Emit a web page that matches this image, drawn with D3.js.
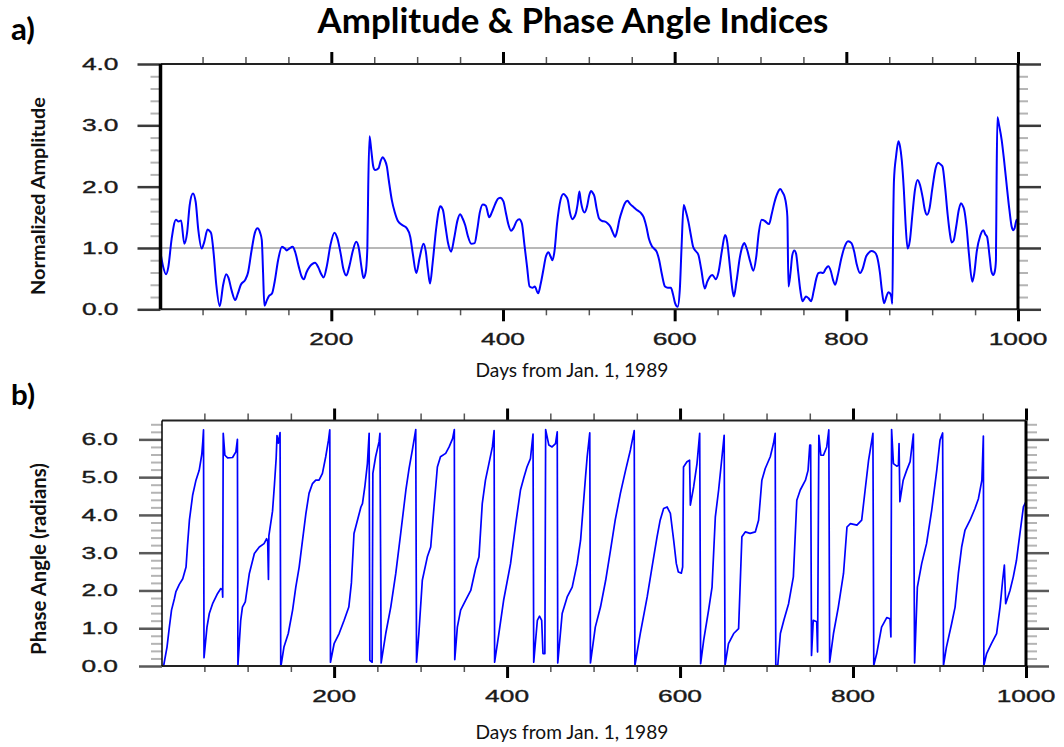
<!DOCTYPE html>
<html>
<head>
<meta charset="utf-8">
<script src="https://cdn.jsdelivr.net/npm/d3@7"></script>
<style>
  body { margin: 0; background: #fff; }
  svg { display: block; }
</style>
</head>
<body>
<svg id="chart" width="1064" height="747"></svg>
<script>
// ---- Panel a: normalized amplitude index (day, value) ----
const ampDays = [
  1, 4, 7.5, 10, 14, 19, 22, 25, 28.7, 32, 35, 38.8, 42, 45, 49, 52, 55.8, 58, 60, 63,
  66, 70, 74, 77.6, 80, 84, 88, 91, 94.6, 99.7, 103, 107, 111, 114, 117, 119, 120.5, 122, 125, 127,
  131, 134, 138, 142.5, 146, 148, 151, 155, 158, 162, 165, 168, 171, 175, 178, 181, 185, 188, 191, 195,
  199, 203.7, 207, 211, 214, 217.5, 221, 225, 229, 232, 235, 237.5, 240, 242, 243, 244.5, 246.5, 249, 251, 255,
  257.5, 260, 262, 264.7, 267, 270.5, 274, 278, 283, 288, 292, 295, 299, 303, 307.4, 310, 312.5, 315, 318, 322,
  325, 327, 330, 333, 336, 339.6, 343, 347, 350, 353, 356, 359, 363, 367, 370, 373, 376.5, 380, 384, 387,
  391, 394, 396.7, 400.5, 403, 406, 409.5, 412, 416, 419, 422, 425, 428, 431, 434.3, 437, 441, 444, 447, 450,
  453, 455.5, 457.7, 460, 463, 467, 470.4, 473, 475.6, 478, 481, 483, 485, 487, 489, 490.5, 492, 495, 498, 500.5,
  502.7, 504.5, 506.6, 509, 512, 515.5, 519, 522, 525, 528, 530.6, 533, 535.6, 539, 542, 545, 548, 552, 556, 560,
  563.6, 567, 570, 573.5, 576, 579, 582, 585, 588.8, 592, 595.6, 598, 600.5, 603.5, 606, 608, 610.5, 613, 616, 619,
  621.5, 624.5, 627.6, 631, 635, 638, 641, 644, 648, 651, 655, 658.7, 661, 664, 667, 669, 672, 676, 679, 681,
  684, 688, 691.7, 695, 698, 701.4, 705, 710, 713, 716, 720, 723, 726, 728, 730, 731.3, 732.6, 735, 737, 739.4,
  741.4, 744, 746.5, 749, 751, 753, 756, 759, 762, 765, 767.4, 770, 773, 776, 779, 782, 784.5, 787, 790, 794,
  798, 802, 806, 809, 812, 816, 819, 823, 826, 829, 833, 836, 839, 841.5, 844, 847, 849, 851, 852.5, 853.6,
  854.5, 855.5, 858, 860.7, 862.5, 864.6, 867, 869, 871.4, 874, 877, 880, 883, 886, 889, 891.5, 894, 897, 900, 904,
  907, 910, 912, 915, 918, 920.5, 922.7, 925, 928, 931, 933.6, 936, 937.4, 940, 943, 946.7, 949, 952, 956, 959.6,
  962, 964, 967, 969, 971.2, 973, 974.3, 975, 976, 978, 981, 984, 987, 990, 992.6, 994.5, 996, 998.4, 1000
];
const ampValues = [
  0.92, 0.70, 0.57, 0.68, 1.15, 1.46, 1.43, 1.45, 1.07, 1.25, 1.70, 1.89, 1.75, 1.30, 0.99, 1.10, 1.30, 1.28, 1.24, 0.90,
  0.40, 0.05, 0.40, 0.57, 0.52, 0.30, 0.15, 0.25, 0.40, 0.48, 0.60, 0.95, 1.25, 1.32, 1.25, 1.13, 0.60, 0.06, 0.15, 0.21,
  0.26, 0.45, 0.80, 1.02, 0.99, 0.96, 0.99, 1.02, 0.93, 0.70, 0.55, 0.49, 0.60, 0.70, 0.74, 0.76, 0.68, 0.58, 0.52, 0.72,
  1.05, 1.25, 1.16, 0.90, 0.66, 0.55, 0.70, 0.95, 1.10, 1.00, 0.70, 0.51, 0.60, 1.00, 2.00, 2.82, 2.60, 2.32, 2.27, 2.30,
  2.42, 2.48, 2.44, 2.33, 2.10, 1.78, 1.58, 1.43, 1.37, 1.32, 1.18, 0.90, 0.59, 0.85, 1.07, 0.95, 0.65, 0.42, 0.75, 1.30,
  1.60, 1.68, 1.62, 1.35, 1.08, 0.94, 1.15, 1.45, 1.55, 1.48, 1.37, 1.20, 1.07, 1.08, 1.30, 1.58, 1.71, 1.69, 1.50, 1.58,
  1.72, 1.80, 1.82, 1.76, 1.60, 1.40, 1.28, 1.32, 1.44, 1.47, 1.40, 1.05, 0.70, 0.37, 0.35, 0.37, 0.26, 0.42, 0.64, 0.86,
  0.93, 0.86, 0.80, 0.95, 1.40, 1.78, 1.88, 1.85, 1.78, 1.58, 1.47, 1.50, 1.57, 1.72, 1.92, 1.78, 1.67, 1.58, 1.68, 1.86,
  1.93, 1.90, 1.84, 1.65, 1.48, 1.44, 1.43, 1.40, 1.35, 1.25, 1.18, 1.28, 1.46, 1.62, 1.73, 1.77, 1.72, 1.67, 1.62, 1.58,
  1.51, 1.35, 1.15, 1.03, 0.99, 0.94, 0.80, 0.58, 0.37, 0.35, 0.35, 0.25, 0.10, 0.04, 0.32, 1.00, 1.70, 1.60, 1.43, 1.20,
  1.02, 0.95, 0.89, 0.65, 0.34, 0.45, 0.53, 0.56, 0.49, 0.60, 0.95, 1.21, 1.12, 0.75, 0.35, 0.21, 0.45, 0.85, 1.03, 1.08,
  0.99, 0.78, 0.63, 0.85, 1.25, 1.46, 1.44, 1.39, 1.55, 1.73, 1.90, 1.96, 1.90, 1.84, 1.70, 1.51, 0.37, 0.60, 0.88, 0.96,
  0.91, 0.60, 0.30, 0.13, 0.17, 0.21, 0.18, 0.13, 0.30, 0.50, 0.59, 0.60, 0.59, 0.66, 0.70, 0.62, 0.48, 0.40, 0.55, 0.82,
  1.02, 1.11, 1.08, 0.95, 0.74, 0.59, 0.66, 0.86, 0.92, 0.95, 0.93, 0.85, 0.61, 0.30, 0.10, 0.22, 0.28, 0.26, 0.20, 0.09,
  1.30, 2.10, 2.50, 2.74, 2.66, 2.43, 1.95, 1.40, 0.99, 1.12, 1.55, 1.95, 2.11, 2.02, 1.82, 1.62, 1.54, 1.65, 1.95, 2.30,
  2.39, 2.36, 2.33, 2.00, 1.55, 1.25, 1.09, 1.12, 1.35, 1.62, 1.73, 1.68, 1.62, 1.35, 0.88, 0.45, 0.58, 0.95, 1.20, 1.29,
  1.22, 1.18, 0.85, 0.62, 0.56, 0.62, 0.80, 2.00, 3.13, 3.00, 2.76, 2.40, 2.00, 1.62, 1.35, 1.29, 1.32, 1.46, 1.42
];

// ---- Panel b: phase angle index in radians (day, value) ----
const phaseDays = [
  3, 6.8, 9.5, 12, 15.3, 17, 21, 25, 28.8, 30.5, 32.7, 36.4, 40.3, 44, 47, 48.2, 49, 49.6, 53, 55.7,
  59.5, 65.3, 69, 70.8, 71.2, 71.8, 73.7, 76.9, 82.6, 86.4, 88.2, 88.8, 92, 94, 97.3, 102, 107.8, 113.5, 119, 122,
  123.2, 124.1, 124.6, 128.8, 131, 133, 134, 135.5, 137.5, 138.3, 139, 142, 147, 152, 155.7, 159.6, 163.5, 167.4, 171, 175,
  178.8, 182.6, 186.5, 190.3, 193.5, 195, 195.8, 200, 205.8, 211.6, 217, 220, 223, 227, 231, 232.8, 235.5, 238.5, 240.5, 241.3,
  244, 244.8, 248, 252, 253, 254.4, 259.7, 265.5, 271.3, 277, 283, 286.7, 290.5, 294.4, 295.3, 298, 302, 307.8, 311.7, 315.5,
  319.4, 323, 329, 333, 337, 339, 339.5, 342.5, 346.3, 352, 358, 363.6, 367.5, 371.3, 375, 379, 383, 385, 385.6, 390.5,
  396, 404, 410, 415.5, 419.5, 423, 427, 430, 430.8, 435, 437.5, 440, 441.5, 443.7, 444.6, 448.3, 452, 456, 458, 458.6,
  463.7, 469.5, 475.3, 481, 485, 490.7, 492.6, 495.6, 496.4, 502, 508, 514, 519.6, 525, 531, 537, 542.6, 547, 547.8, 554,
  562, 567.6, 573.4, 577, 581, 585, 588.8, 592.6, 595.7, 598, 601.5, 603, 604, 608, 611, 611.9, 615.7, 619.6, 622.7, 623.8,
  627.3, 633, 637, 640.8, 644.6, 648.5, 651, 652, 656, 662, 667.7, 671.5, 675.4, 681, 687, 690.8, 694.6, 698.5, 704.3, 708,
  710, 710.7, 713, 716, 720, 725.5, 731, 735, 739, 745, 748, 750, 751, 752, 754, 758, 759, 760.5, 762.8, 765.8,
  769.6, 772, 773, 777.4, 783, 789, 793, 797, 804.5, 810, 814, 818, 823, 824, 827.4, 833, 839, 842.8, 843.8, 844.6,
  846.7, 850.6, 852.5, 853.2, 854.2, 858, 862, 866, 869.8, 871.2, 874.4, 879.4, 885, 891, 896.8, 900.6, 903.6, 904.6, 908, 914,
  918, 921.8, 925.6, 929.5, 935.3, 941, 945, 949, 950.7, 951.3, 954.5, 960, 966, 970, 973, 975, 976.5, 981.5, 985.3, 989,
  993, 997, 1000
];
const phaseValues = [
  0.02, 0.50, 1.03, 1.48, 1.78, 1.96, 2.16, 2.31, 2.62, 3.20, 3.86, 4.52, 4.92, 5.18, 5.60, 5.95, 6.25, 0.22, 1.03, 1.39,
  1.65, 1.92, 2.05, 2.02, 1.82, 6.16, 5.58, 5.51, 5.52, 5.67, 6.00, 0.02, 1.21, 1.56, 1.70, 2.45, 2.98, 3.15, 3.24, 3.37,
  3.30, 2.29, 3.45, 4.10, 4.80, 5.50, 6.10, 5.90, 6.18, 0.00, 0.06, 0.50, 0.86, 1.48, 2.09, 2.62, 3.33, 4.04, 4.57, 4.83,
  4.92, 4.92, 5.10, 5.54, 5.98, 6.25, 0.10, 0.59, 0.86, 1.21, 1.56, 2.20, 3.51, 3.86, 4.21, 4.30, 4.74, 5.36, 6.16, 0.15,
  0.10, 5.10, 5.54, 5.94, 6.16, 0.08, 0.86, 1.56, 2.45, 3.51, 4.66, 5.23, 5.72, 6.26, 0.10, 0.86, 2.27, 2.89, 3.15, 4.21,
  5.27, 5.54, 5.63, 5.80, 6.02, 6.26, 0.17, 1.03, 1.48, 1.74, 2.00, 2.58, 2.89, 4.30, 4.92, 5.36, 5.80, 6.23, 0.10, 0.86,
  1.74, 2.71, 3.77, 4.66, 5.00, 5.27, 5.49, 6.14, 0.10, 1.21, 1.32, 1.21, 0.33, 0.33, 6.26, 5.85, 5.80, 5.89, 6.20, 0.08,
  1.39, 1.83, 2.09, 2.71, 3.33, 5.01, 5.54, 6.17, 0.08, 1.03, 1.56, 2.27, 3.07, 3.86, 4.57, 5.18, 5.72, 6.23, 0.02, 0.86,
  1.83, 2.62, 3.42, 3.86, 4.17, 4.21, 4.04, 3.33, 2.71, 2.49, 2.46, 2.62, 5.27, 5.41, 5.45, 4.26, 4.74, 5.36, 6.16, 0.06,
  0.68, 1.48, 2.09, 3.95, 4.66, 5.54, 6.11, 0.02, 0.59, 0.86, 0.99, 3.42, 3.55, 3.51, 3.55, 3.86, 4.92, 5.23, 5.54, 5.89,
  6.16, 0.02, 0.02, 0.86, 1.21, 1.65, 2.36, 4.39, 4.66, 4.92, 5.18, 5.85, 5.85, 0.28, 1.21, 1.17, 0.37, 6.11, 5.58, 5.58,
  5.80, 6.25, 0.10, 0.86, 1.56, 2.45, 3.68, 3.77, 3.73, 3.86, 4.66, 5.45, 6.16, 0.02, 0.33, 1.03, 1.28, 1.25, 0.77, 6.26,
  5.36, 5.29, 5.32, 5.89, 4.35, 4.92, 5.18, 5.41, 6.14, 0.08, 2.09, 2.71, 3.24, 4.13, 5.18, 5.98, 6.17, 0.02, 0.50, 1.12,
  1.56, 2.45, 3.15, 3.60, 3.86, 4.17, 4.43, 4.92, 6.09, 0.02, 0.33, 0.59, 0.86, 1.56, 2.27, 2.67, 1.65, 2.00, 2.36, 2.80,
  3.51, 4.21, 4.35
];

// ---- Axis ticks and labels ----
const xMajorTicks = [200, 400, 600, 800, 1000];
const xMinorTicks = [50, 100, 150, 250, 300, 350, 450, 500, 550, 650, 700, 750, 850, 900, 950];
const ampTicks = [0, 1, 2, 3, 4];
const ampTickLabels = ["0.0", "1.0", "2.0", "3.0", "4.0"];
const phaseTicks = [0, 1, 2, 3, 4, 5, 6];
const phaseTickLabels = ["0.0", "1.0", "2.0", "3.0", "4.0", "5.0", "6.0"];

const svg = d3.select("#chart");
const TICK_FONT = "'Liberation Sans', Arial, sans-serif";
const TEXT_FONT = "Lato, 'Open Sans', sans-serif";

// Size a text element so that it spans the given width.
function fitWidth(text, width) {
  const base = 20;
  text.attr("font-size", base);
  const len = text.node().getComputedTextLength();
  text.attr("font-size", base * width / len);
}

function drawPanel(p) {
  const g = svg.append("g");
  const x = d3.scaleLinear().domain([1, 1000]).range([p.left, p.right]);
  const y = d3.scaleLinear().domain(p.yDomain).range([p.bottom, p.top]);

  // reference line
  if (p.refLine != null) {
    g.append("line")
      .attr("x1", p.left).attr("x2", p.right)
      .attr("y1", y(p.refLine)).attr("y2", y(p.refLine))
      .attr("stroke", "#b8b8b8").attr("stroke-width", 2);
  }

  // data line
  const pts = p.days.map((d, i) => [d, p.values[i]]);
  g.append("path")
    .datum(pts)
    .attr("fill", "none")
    .attr("stroke", "#0000ff")
    .attr("stroke-width", p.lineWidth)
    .attr("stroke-linejoin", "round")
    .attr("d", d3.line().x(d => x(d[0])).y(d => y(d[1])).curve(p.curve));

  // y minor ticks (both sides)
  const yMinor = d3.range(p.yDomain[0], p.yDomain[1] + 1e-6, 0.2)
    .filter(v => Math.abs(v - Math.round(v)) > 1e-6);
  const styleAxis = (sel, color, width) => {
    sel.select(".domain").remove();
    sel.selectAll(".tick line").attr("stroke", color).attr("stroke-width", width);
  };
  g.append("g").attr("transform", `translate(${p.left},0)`)
    .call(d3.axisLeft(y).tickValues(yMinor).tickSize(p.yMinorLen).tickFormat(""))
    .call(s => styleAxis(s, "#b4b4b4", 2));
  g.append("g").attr("transform", `translate(${p.right},0)`)
    .call(d3.axisRight(y).tickValues(yMinor).tickSize(p.yMinorLen).tickFormat(""))
    .call(s => styleAxis(s, "#b4b4b4", 2));

  // y major ticks (both sides)
  g.append("g").attr("transform", `translate(${p.left},0)`)
    .call(d3.axisLeft(y).tickValues(p.yTicks).tickSize(p.yMajorLen).tickFormat(""))
    .call(s => styleAxis(s, p.yMajorColor, 2.5));
  g.append("g").attr("transform", `translate(${p.right},0)`)
    .call(d3.axisRight(y).tickValues(p.yTicks).tickSize(p.yMajorLen).tickFormat(""))
    .call(s => styleAxis(s, p.yMajorColor, 2.5));

  // x minor and major ticks (top and bottom)
  g.append("g").attr("transform", `translate(0,${p.top})`)
    .call(d3.axisTop(x).tickValues(xMinorTicks).tickSize(7).tickFormat(""))
    .call(s => styleAxis(s, "#555", 1.5));
  g.append("g").attr("transform", `translate(0,${p.bottom})`)
    .call(d3.axisBottom(x).tickValues(xMinorTicks).tickSize(6).tickFormat(""))
    .call(s => styleAxis(s, "#555", 1.5));
  g.append("g").attr("transform", `translate(0,${p.top})`)
    .call(d3.axisTop(x).tickValues(xMajorTicks).tickSize(12).tickFormat(""))
    .call(s => styleAxis(s, "#000", 3));
  g.append("g").attr("transform", `translate(0,${p.bottom})`)
    .call(d3.axisBottom(x).tickValues(xMajorTicks).tickSize(12).tickFormat(""))
    .call(s => styleAxis(s, "#000", 3));

  // frame
  g.append("line").attr("x1", p.left).attr("x2", p.right).attr("y1", p.top).attr("y2", p.top)
    .attr("stroke", "#222").attr("stroke-width", 2);
  g.append("line").attr("x1", p.left).attr("x2", p.right).attr("y1", p.bottom).attr("y2", p.bottom)
    .attr("stroke", "#222").attr("stroke-width", 2);
  g.append("line").attr("x1", p.left).attr("x2", p.left).attr("y1", p.top).attr("y2", p.bottom)
    .attr("stroke", "#000").attr("stroke-width", p.leftFrameWidth);
  g.append("line").attr("x1", p.right).attr("x2", p.right).attr("y1", p.top).attr("y2", p.bottom)
    .attr("stroke", "#000").attr("stroke-width", 3);

  // y tick labels (wide lettering)
  p.yTicks.forEach((v, i) => {
    g.append("g")
      .attr("transform", `translate(${p.left - p.yLabelGap},${y(v) + 6}) scale(1.55,1)`)
      .append("text")
      .attr("text-anchor", "end")
      .attr("font-family", TICK_FONT)
      .attr("font-size", 17)
      .attr("fill", "#1a1a1a")
      .attr("stroke", "#1a1a1a")
      .attr("stroke-width", 0.35)
      .text(p.yTickLabels[i]);
  });
  // x tick labels
  xMajorTicks.forEach(v => {
    g.append("g")
      .attr("transform", `translate(${x(v)},${p.bottom + 36}) scale(1.55,1)`)
      .append("text")
      .attr("text-anchor", "middle")
      .attr("font-family", TICK_FONT)
      .attr("font-size", 17)
      .attr("fill", "#1a1a1a")
      .attr("stroke", "#1a1a1a")
      .attr("stroke-width", 0.35)
      .text(v);
  });

  // axis titles
  const xt = g.append("text")
    .attr("x", p.xTitleX).attr("y", p.xTitleY)
    .attr("text-anchor", "middle")
    .attr("font-family", TEXT_FONT)
    .attr("fill", "#111")
    .text("Days from Jan. 1, 1989");
  fitWidth(xt, 193);

  const yt = g.append("text")
    .attr("transform", `translate(${p.yTitleX},${p.yTitleY}) rotate(-90)`)
    .attr("text-anchor", "middle")
    .attr("font-family", TEXT_FONT)
    .attr("font-weight", 700)
    .attr("fill", "#111")
    .text(p.yTitle);
  fitWidth(yt, p.yTitleLen);

  // panel letter
  const letter = g.append("text")
    .attr("x", 11).attr("y", p.letterY)
    .attr("font-family", TEXT_FONT)
    .attr("font-weight", 700)
    .attr("fill", "#000")
    .text(p.letter);
  fitWidth(letter, 24);
}

drawPanel({
  left: 160.5, right: 1018, top: 64, bottom: 309.3,
  yDomain: [0, 4], yTicks: ampTicks, yTickLabels: ampTickLabels,
  yMajorLen: 23, yMinorLen: 10, yMajorColor: "#3a3a3a", yLabelGap: 42,
  leftFrameWidth: 3.5, refLine: 1,
  days: ampDays, values: ampValues, lineWidth: 2, curve: d3.curveMonotoneX,
  xTitleX: 572, xTitleY: 377,
  yTitle: "Normalized Amplitude", yTitleX: 45, yTitleY: 196, yTitleLen: 198,
  letter: "a)", letterY: 40
});

drawPanel({
  left: 162, right: 1026, top: 420.5, bottom: 666,
  yDomain: [0, 6.5], yTicks: phaseTicks, yTickLabels: phaseTickLabels,
  yMajorLen: 23, yMinorLen: 11, yMajorColor: "#5a5a5a", yLabelGap: 44,
  leftFrameWidth: 1.5, refLine: null,
  days: phaseDays, values: phaseValues, lineWidth: 1.7, curve: d3.curveLinear,
  xTitleX: 572, xTitleY: 739,
  yTitle: "Phase Angle (radians)", yTitleX: 46, yTitleY: 559, yTitleLen: 192,
  letter: "b)", letterY: 405
});

// chart title
const title = svg.append("text")
  .attr("x", 573).attr("y", 33)
  .attr("text-anchor", "middle")
  .attr("font-family", TEXT_FONT)
  .attr("font-weight", 700)
  .attr("fill", "#000")
  .text("Amplitude & Phase Angle Indices");
fitWidth(title, 511);
</script>
</body>
</html>
